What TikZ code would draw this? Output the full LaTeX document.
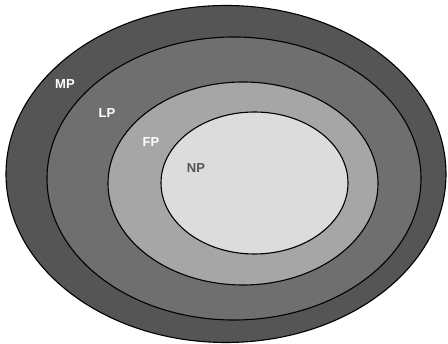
\documentclass[tikz,border=0pt]{standalone}
\usepackage{fontspec}
\setmainfont{Liberation Sans}
\usepackage{tikz}
\usetikzlibrary{calc}
\definecolor{mp_gray}{HTML}{555555}
\definecolor{lp_gray}{HTML}{6F6F6F}
\definecolor{fp_gray}{HTML}{A6A6A6}
\definecolor{np_gray}{HTML}{DCDCDC}

\begin{document}
\begin{tikzpicture}[x=1pt,y=-1pt]

    % Cadre de l'image
    \useasboundingbox (0,0) rectangle (448,344);

    % Centres des ellipses
    \coordinate (Cmp) at (226,174);
    \coordinate (Clp) at (234,178.5);
    \coordinate (Cfp) at (243,183.5);
    \coordinate (Cnp) at (254.5,183);

    % Dessiner les ellipses, de la plus grande a la plus petite
    \draw[black, line width=1.1pt, fill=mp_gray] (Cmp) ellipse [x radius=220, y radius=168.5];
    \draw[black, line width=1.1pt, fill=lp_gray] (Clp) ellipse [x radius=187, y radius=141.5];
    \draw[black, line width=1.1pt, fill=fp_gray] (Cfp) ellipse [x radius=135, y radius=101.5];
    \draw[black, line width=1.1pt, fill=np_gray] (Cnp) ellipse [x radius=93.5, y radius=71];

    % Noms des classes
    \node[white, font=\fontsize{13}{13}\selectfont\bfseries] (mp) at (65,84) {MP};
    \node[white, font=\fontsize{13}{13}\selectfont\bfseries] (lp) at (107,113) {LP};
    \node[white, font=\fontsize{13}{13}\selectfont\bfseries] (fp) at (151,142) {FP};
    \node[mp_gray, font=\fontsize{13}{13}\selectfont\bfseries] (np) at (196,168) {NP};
  \end{tikzpicture}
\end{document}
